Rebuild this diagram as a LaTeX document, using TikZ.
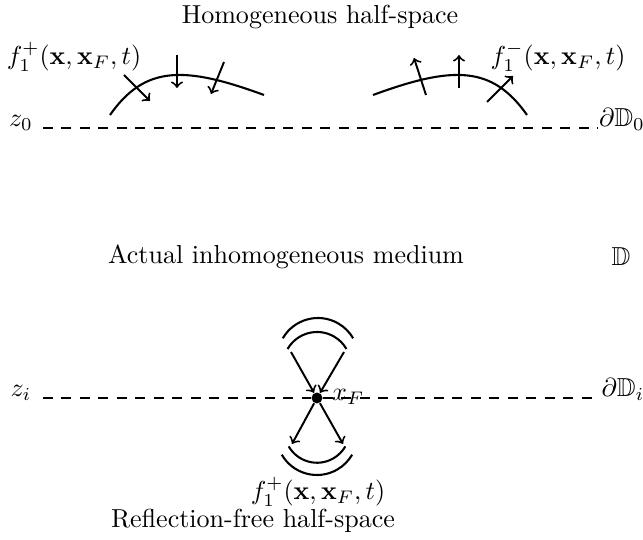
\documentclass[tikz,border=0pt]{standalone}
\usepackage{amsmath}
\usepackage{amssymb}
\usepackage{bm}
\usetikzlibrary{positioning,calc}

\begin{document}
\begin{tikzpicture}[
    x=0.0135cm, y=-0.0135cm,
    front/.style={line width=0.8pt},
    ray/.style={->, line width=0.75pt},
    level/.style={line width=0.8pt, dash pattern=on 3.8pt off 3.3pt},
    focus/.style={circle, fill, inner sep=0pt, minimum size=4.2pt},
    tag/.style={inner sep=1pt}
]
    \useasboundingbox (0,0) rectangle (643,540);

    % boundaries
    \coordinate (l0) at (43,128);
    \coordinate (r0) at (598,128);
    \coordinate (li) at (43,398);
    \coordinate (ri) at (598,398);
    \node[focus] (xF) at (317,398) {};
    \draw[level] (l0) -- (r0);
    \draw[level] (li) -- (xF) -- (ri);

    \node[tag, anchor=base] (z0) at (21,127) {$z_0$};
    \node[tag, anchor=base] (dD0) at (622,127) {$\partial\mathbb{D}_0$};
    \node[tag, anchor=base] (zi) at (21,397) {$z_i$};
    \node[tag, anchor=base] (dDi) at (623,397) {$\partial\mathbb{D}_i$};
    \node[tag, anchor=base west] (xFl) at (329,401) {$x_F$};

    \node[tag] (top) at (320,17) {Homogeneous half-space};
    \node[tag] (mid) at (286,257) {Actual inhomogeneous medium};
    \node[tag] (D) at (621,257) {$\mathbb{D}$};
    \node[tag] (fup) at (74,57) {$f_1^+(\mathbf{x},\mathbf{x}_F,t)$};
    \node[tag] (fdn) at (558,57) {$f_1^-(\mathbf{x},\mathbf{x}_F,t)$};
    \node[tag] (fsrc) at (318,492) {$f_1^+(\mathbf{x},\mathbf{x}_F,t)$};
    \node[tag] (bot) at (253,521) {Reflection-free half-space};

    % wavefronts at z_0
    \draw[front] (110,115) .. controls (145,65) and (185,66) .. (264,95);
    \draw[front] (527,115) .. controls (492,65) and (452,66) .. (373,95);

    \coordinate (d1s) at (124,75);  \coordinate (d1e) at (150,101);
    \coordinate (d2s) at (177,55);  \coordinate (d2e) at (177,88);
    \coordinate (d3s) at (224,62);  \coordinate (d3e) at (211,94);
    \coordinate (u1s) at (426,95);  \coordinate (u1e) at (414,58);
    \coordinate (u2s) at (459,88);  \coordinate (u2e) at (459,55);
    \coordinate (u3s) at (487,102); \coordinate (u3e) at (513,76);
    \foreach \r in {d1,d2,d3,u1,u2,u3}
        \draw[ray] (\r s) -- (\r e);

    % focal point
    \draw[front] (282.8,338.3) arc[start angle=210, end angle=330, radius=40.6];
    \draw[front] (287.6,349) arc[start angle=210, end angle=330, radius=34];
    \draw[front] (288.7,446.4) arc[start angle=150, end angle=30, radius=32.7];
    \draw[front] (281.8,454.7) arc[start angle=150, end angle=30, radius=40.6];

    \coordinate (a1) at (291,352);
    \coordinate (a2) at (344,352);
    \coordinate (b1) at (292,444);
    \coordinate (b2) at (343,444);
    \draw[ray] (a1) -- (xF);
    \draw[ray] (a2) -- (xF);
    \draw[ray] (xF) -- (b1);
    \draw[ray] (xF) -- (b2);
\end{tikzpicture}
\end{document}
